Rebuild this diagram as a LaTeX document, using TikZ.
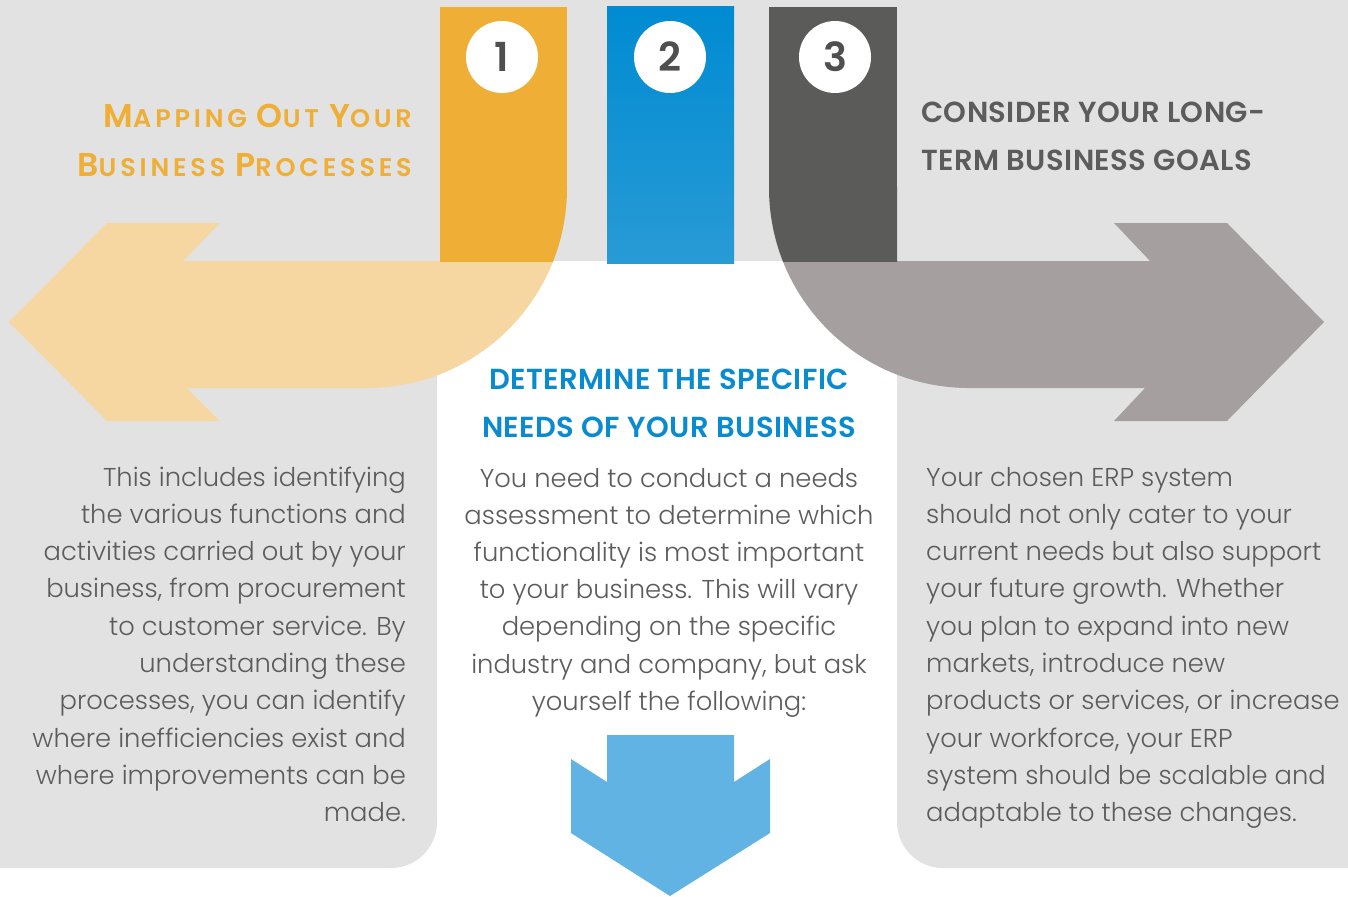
\documentclass[tikz,border=0pt]{standalone}
\usepackage{fontspec}
\setmainfont{Poppins}[UprightFont={* Light},BoldFont={* SemiBold}]
\newfontfamily\headfont{Poppins}[UprightFont={* SemiBold},LetterSpace=1.5]
\newfontfamily\scapfont{Poppins}[UprightFont={* SemiBold},LetterSpace=15]
\usetikzlibrary{positioning}

\definecolor{panelgrey}{HTML}{E1E2E1}
\definecolor{barorange}{HTML}{EFAE36}
\definecolor{arroworange}{HTML}{F7D7A1}
\definecolor{bartop}{HTML}{008BD2}
\definecolor{barbottom}{HTML}{289BD5}
\definecolor{headblue}{HTML}{0A8BD0}
\definecolor{bardark}{HTML}{5B5B5A}
\definecolor{arrowgrey}{HTML}{A5A09F}
\definecolor{arrowblue}{HTML}{60B3E2}
\definecolor{bodygrey}{HTML}{5C5C5C}
\definecolor{numgrey}{HTML}{4F4F4F}

% fake small caps for the first heading
\newcommand{\capletter}[1]{{\fontsize{33}{33}\selectfont #1}}

\begin{document}
\begin{tikzpicture}[x=1pt, y=-1pt,
    body/.style={font=\fontsize{25.8}{30}\selectfont, text=bodygrey, inner sep=0},
    head/.style={font=\fontsize{29}{30}\headfont, inner sep=0},
    smallhead/.style={font=\fontsize{25.5}{30}\scapfont, inner sep=0},
    num/.style={circle, fill=white, minimum size=72pt, inner sep=0,
      font=\fontsize{40}{40}\selectfont\bfseries, text=numgrey}]
  \useasboundingbox (0,0) rectangle (1348,896);
  \clip (0,0) rectangle (1348,896);

  % Panels
  \fill[white] (0,0) rectangle (1348,896);
  \fill[panelgrey, rounded corners=46pt] (-60,-60) rectangle (437,868);
  \fill[panelgrey, rounded corners=46pt] (897,-60) rectangle (1408,868);
  \fill[panelgrey] (420,0) rectangle (920,261);

  % Step 1: bar and arrow to the left
  \fill[arroworange] (9,322) -- (107,223) -- (220,223) -- (183,261) -- (369,261)
    -- (369,388) -- (187,388) -- (220,421) -- (107,421) -- cycle;
  \begin{scope}
    \clip (367,261) rectangle (580,388);
    \fill[arroworange] (367,188) circle (200pt);
  \end{scope}
  \fill[barorange] (440,7) rectangle (567,190);
  \begin{scope}
    \clip (440,188) rectangle (580,261);
    \fill[barorange] (367,188) circle (200pt);
  \end{scope}

  % Step 2: bar
  \shade[top color=bartop, bottom color=barbottom] (607,7) rectangle (734,263);

  % Step 3: bar and arrow to the right
  \fill[arrowgrey] (967,261) -- (1150,261) -- (1114,223) -- (1227,223) -- (1324,322)
    -- (1227,421) -- (1114,421) -- (1145,388) -- (967,388) -- cycle;
  \begin{scope}
    \clip (760,261) rectangle (969,388);
    \fill[arrowgrey] (969,188) circle (200pt);
  \end{scope}
  \fill[bardark] (769,7) rectangle (897,190);
  \begin{scope}
    \clip (760,188) rectangle (897,261);
    \fill[bardark] (969,188) circle (200pt);
  \end{scope}

  % Numbers
  \node[num] (n1) at (502,57) {1};
  \node[num] (n2) at (670,57) {2};
  \node[num] (n3) at (835,57) {3};

  % Arrow down
  \fill[arrowblue] (607,735) -- (734,735) -- (734,782) -- (770,759) -- (770,833)
    -- (670,896) -- (571,833) -- (571,759) -- (607,782) -- cycle;

  % Headings
  \node[smallhead, text=barorange, anchor=base east] (h1a) at (412,128)
    {\capletter{M}APPING \capletter{O}UT \capletter{Y}OUR};
  \node[smallhead, text=barorange, anchor=base east] (h1b) at (412,176)
    {\capletter{B}USINESS \capletter{P}ROCESSES};
  \node[head, text=headblue, anchor=base] (h2a) at (669,389) {DETERMINE THE SPECIFIC};
  \node[head, text=headblue, anchor=base] (h2b) at (669,437) {NEEDS OF YOUR BUSINESS};
  \node[head, text=bodygrey, anchor=base west] (h3a) at (921,123) {CONSIDER YOUR LONG-};
  \node[head, text=bodygrey, anchor=base west] (h3b) at (921,171) {TERM BUSINESS GOALS};

  % Body texts
  \foreach \l [count=\i] in {This includes identifying, the various functions and,
      activities carried out by your, {business, from procurement},
      to customer service. By, understanding these, {processes, you can identify},
      where inefficiencies exist and, where improvements can be, made.} {
    \node[body, anchor=base east] (left\i) at (406,{448.7+37.3*\i}) {\l};
  }
  \foreach \l [count=\i] in {You need to conduct a needs, assessment to determine which,
      functionality is most important, to your business. This will vary,
      depending on the specific, {industry and company, but ask},
      yourself the following:} {
    \node[body, anchor=base] (mid\i) at (669,{449.8+37.2*\i}) {\l};
  }
  \foreach \l [count=\i] in {Your chosen ERP system, should not only cater to your,
      current needs but also support, your future growth. Whether,
      you plan to expand into new, {markets, introduce new},
      {products or services, or increase}, {your workforce, your ERP},
      system should be scalable and, adaptable to these changes.} {
    \node[body, anchor=base west] (right\i) at (926,{448.7+37.3*\i}) {\l};
  }
\end{tikzpicture}
\end{document}
